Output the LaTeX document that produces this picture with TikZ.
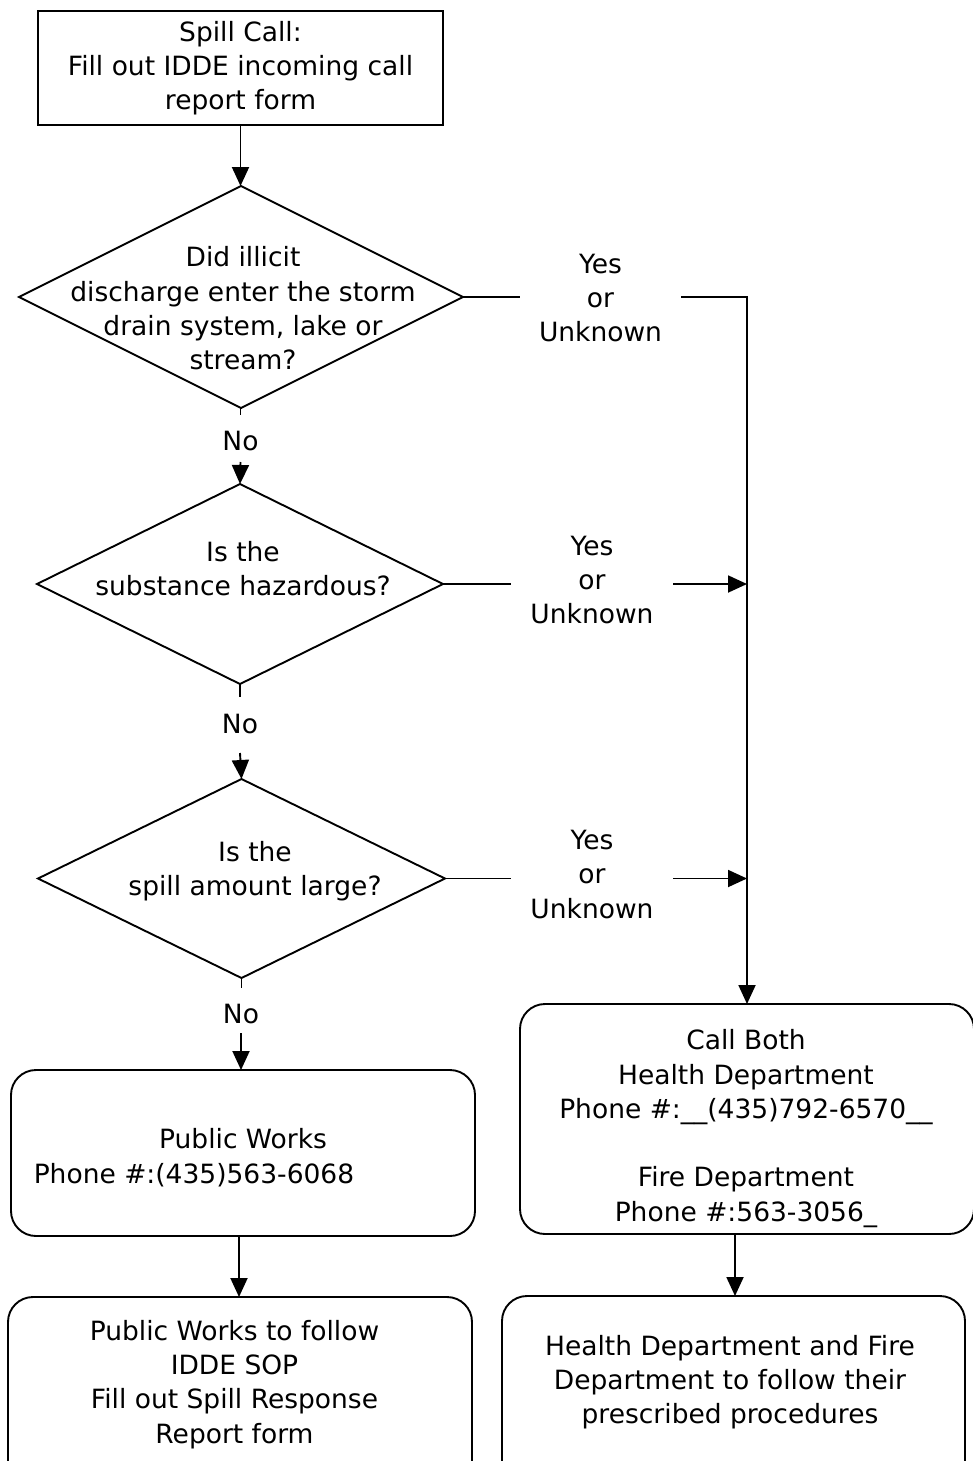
\documentclass[tikz,border=0pt]{standalone}
\usepackage{fontspec}
\setmainfont{DejaVu Sans}
\usetikzlibrary{shapes.geometric,arrows.meta}
\begin{document}
\begin{tikzpicture}[x=1pt,y=-1pt,
  every node/.style={font=\fontsize{26.5}{34.3}\selectfont, inner sep=0pt, outer sep=0pt},
  ln/.style={line width=1.9pt, line join=miter},
  arr/.style={ln, -{Triangle[length=19pt,width=17pt]}},
  sqbox/.style={draw, line width=1.9pt, align=center},
  procbox/.style={draw, line width=1.9pt, rounded corners=25pt},
  dia/.style={draw, diamond, line width=1.9pt},
  txt/.style={align=center},
  nolab/.style={text width=40pt, align=center}
]
\useasboundingbox (0,0) rectangle (973,1461);
\clip (0,0) rectangle (973,1461);
\fill[white] (0,0) rectangle (973,1461);

% top box
\node[sqbox, minimum width=405, minimum height=114] (top) at (240.5,68)
  {Spill Call:\\Fill out IDDE incoming call\\report form};

% diamonds
\node[dia, minimum width=444, minimum height=222] (d1) at (241,297) {};
\node[txt] (t1) at (243,308.5) {Did illicit\\discharge enter the storm\\drain system, lake or\\stream?};

\node[dia, minimum width=406, minimum height=200] (d2) at (240,584) {};
\node[txt] (t2) at (243,568.5) {Is the\\substance hazardous?};

\node[dia, minimum width=407, minimum height=199] (d3) at (241.5,878.5) {};
\node[txt] (t3) at (255,871.5) {Is the\\spill amount large?};

% yes labels
\node[txt, minimum width=161] (y1) at (600.5,298) {Yes\\or\\Unknown};
\node[txt, minimum width=162] (y2) at (592,580) {Yes\\or\\Unknown};
\node[txt, minimum width=162] (y3) at (592,874.5) {Yes\\or\\Unknown};

% no labels
\node[nolab, text height=35.6pt, text depth=11.4pt] (n1) at (240.5,438.5) {No};
\node[nolab, text height=36.6pt, text depth=19.4pt] (n2) at (240,725) {No};
\node[nolab, text height=35.6pt, text depth=9.4pt] (n3) at (241,1010.5) {No};

% boxes
\node[procbox, minimum width=464, minimum height=166] (pw) at (243,1153) {};
\node[anchor=base] (pw1) at (243,1148) {Public Works};
\node[anchor=base] (pw2) at (194,1183) {Phone \#:(435)563-6068};

\node[procbox, minimum width=464, minimum height=204] (pwf) at (240,1399) {};
\node[txt] (pwft) at (234.5,1384.5) {Public Works to follow\\IDDE SOP\\Fill out Spill Response\\Report form};

\node[procbox, minimum width=454, minimum height=230] (cb) at (747,1119) {};
\node[txt] (cbt) at (746,1128.5) {Call Both\\Health Department\\Phone \#:\_\_(435)792-6570\_\_\\[34.3pt]Fire Department\\Phone \#:563-3056\_};

\node[procbox, minimum width=463, minimum height=204] (hf) at (733.5,1398) {};
\node[txt] (hft) at (730,1382) {Health Department and Fire\\Department to follow their\\prescribed procedures};

% connectors
\draw[arr] (top.south) -- (top.south |- d1.north);
\draw[ln] (d1.south) -- (d1.south -| n1.north) -- (n1.north);
\draw[arr] (n1.south) -- (d2.north);
\draw[ln] (d2.south) -- (n2.north);
\draw[arr] (n2.south) -- (d3.north);
\draw[ln] (d3.south) -- (d3.south |- n3.north);
\draw[arr] (n3.south) -- (n3.south |- pw.north);

\draw[ln] (d1.east) -- (d1.east -| y1.west);
\draw[arr] (y1.east |- d1.east) -| (cb.north);
\draw[ln] (d2.east) -- (d2.east -| y2.west);
\draw[arr] (y2.east |- d2.east) -- (d2.east -| cb.north);
\draw[ln] (d3.east) -- (d3.east -| y3.west);
\draw[arr] (y3.east |- d3.east) -- (d3.east -| cb.north);

\draw[arr] ([xshift=-4pt]pw.south) -- ([xshift=-4pt]pw.south |- pwf.north);
\draw[arr] ([xshift=-12pt]cb.south) -- ([xshift=-12pt]cb.south |- hf.north);
\end{tikzpicture}
\end{document}
